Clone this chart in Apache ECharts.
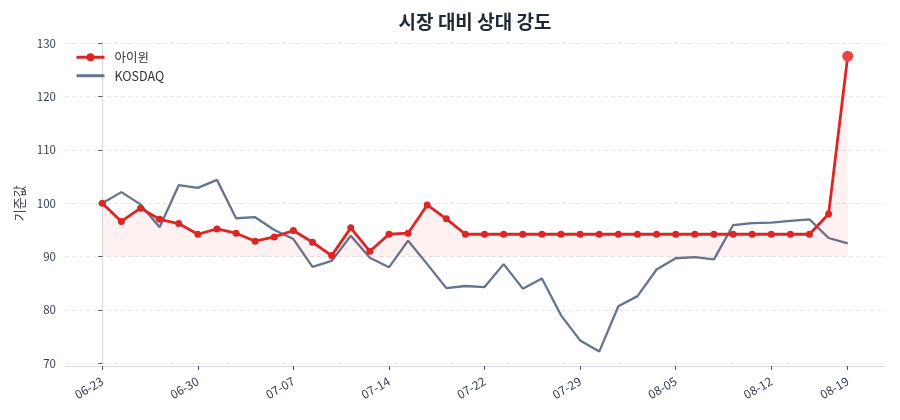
<!DOCTYPE html>
<html>
<head>
<meta charset="utf-8">
<script src="https://cdn.jsdelivr.net/npm/echarts@6/dist/echarts.min.js"></script>
<style>
html,body{margin:0;padding:0;background:#fff;}
#chart{width:900px;height:420px;}
</style>
</head>
<body>
<div id="chart"></div>
<script>
// ---- data ----
var dates = ['06-23','06-24','06-25','06-26','06-27','06-30','07-01','07-02','07-03','07-04',
  '07-07','07-08','07-09','07-10','07-11','07-14','07-15','07-16','07-17','07-18',
  '07-22','07-23','07-24','07-25','07-28','07-29','07-30','07-31','08-01','08-04',
  '08-05','08-06','08-07','08-08','08-11','08-12','08-13','08-14','08-18','08-19'];
var stockValues = [100.0, 96.6, 99.1, 97.0, 96.2, 94.2, 95.2, 94.4, 92.9, 93.7,
  94.9, 92.7, 90.2, 95.4, 91.0, 94.2, 94.4, 99.7, 97.1, 94.2,
  94.2, 94.2, 94.2, 94.2, 94.2, 94.2, 94.2, 94.2, 94.2, 94.2,
  94.2, 94.2, 94.2, 94.2, 94.2, 94.2, 94.2, 94.2, 98.0, 127.6];
var kosdaqValues = [100.0, 102.1, 99.8, 95.5, 103.4, 102.9, 104.4, 97.2, 97.4, 95.0,
  93.3, 88.1, 89.2, 93.9, 89.8, 88.0, 93.0, 88.6, 84.1, 84.5,
  84.3, 88.6, 84.0, 85.9, 79.0, 74.3, 72.2, 80.7, 82.6, 87.6,
  89.7, 89.9, 89.5, 95.9, 96.3, 96.4, 96.7, 97.0, 93.5, 92.5];
var tickIdx = [0, 5, 10, 15, 20, 25, 30, 35, 39];
var yTicks = [70, 80, 90, 100, 110, 120, 130];
var baseline = 90;
var stockName = '아이윈';
var kosdaqName = 'KOSDAQ';

// ---- chart ----
var FONT = "'Noto Sans CJK KR', 'Noto Sans', sans-serif";
var chart = echarts.init(document.getElementById('chart'), null, {renderer: 'canvas'});
var last = stockValues.length - 1;
var stockData = stockValues.map(function (v, i) {
  if (i === last) {
    return {value: [i, v], symbolSize: 11, itemStyle: {color: '#ef4444'}};
  }
  return [i, v];
});
var kosdaqData = kosdaqValues.map(function (v, i) { return [i, v]; });

chart.setOption({
  animation: false,
  backgroundColor: '#ffffff',
  textStyle: {fontFamily: FONT},
  title: {
    text: '시장 대비 상대 강도',
    left: 475,
    textAlign: 'center',
    top: 12,
    padding: 0,
    textStyle: {fontFamily: FONT, fontSize: 19, fontWeight: 'bold', color: '#1f2937'}
  },
  legend: {
    data: [
      {name: stockName, lineStyle: {width: 3}},
      {name: kosdaqName, lineStyle: {width: 3}, itemStyle: {color: 'rgba(0,0,0,0)', borderWidth: 0, opacity: 0}}
    ],
    orient: 'vertical',
    left: 75,
    top: 51,
    padding: 0,
    itemWidth: 28,
    itemHeight: 10,
    itemGap: 6,
    textStyle: {fontFamily: FONT, fontSize: 12.5, color: '#333333', padding: [0, 0, 0, 5]}
  },
  grid: {left: 65, right: 15, top: 43.33, bottom: 56.67, containLabel: false},
  xAxis: {
    type: 'value',
    min: -1.95,
    max: 40.95,
    offset: 2.7,
    splitLine: {show: false},
    axisLine: {show: true, lineStyle: {color: '#d9dde3', width: 1.2}},
    axisTick: {show: true, length: 4, customValues: tickIdx, lineStyle: {color: '#4b5563'}},
    axisLabel: {
      customValues: tickIdx,
      formatter: function (v) { return dates[v] || ''; },
      rotate: 30,
      margin: 14,
      fontFamily: FONT,
      fontSize: 12,
      color: '#374151'
    }
  },
  yAxis: {
    type: 'value',
    min: yTicks[0],
    max: yTicks[yTicks.length - 1],
    interval: 10,
    name: '기준값',
    nameLocation: 'middle',
    nameGap: 38,
    nameTextStyle: {fontFamily: FONT, fontSize: 13, color: '#374151'},
    axisLine: {show: true, lineStyle: {color: '#d9dde3', width: 1.2}},
    axisTick: {show: true, length: 4, lineStyle: {color: '#4b5563'}},
    axisLabel: {margin: 9, fontFamily: FONT, fontSize: 11.5, color: '#374151'},
    splitLine: {show: true, lineStyle: {color: '#e5e7eb', type: [4, 3], width: 1}}
  },
  series: [
    {
      name: kosdaqName,
      type: 'line',
      data: kosdaqData,
      symbol: 'none',
      showSymbol: false,
      lineStyle: {color: '#64748b', width: 2.3},
      itemStyle: {color: '#64748b'},
      z: 2
    },
    {
      name: stockName,
      type: 'line',
      data: stockData,
      symbol: 'circle',
      symbolSize: 7,
      showSymbol: true,
      lineStyle: {color: '#dc2626', width: 2.8},
      itemStyle: {color: '#dc2626'},
      areaStyle: {color: 'rgba(220,38,38,0.09)', origin: baseline},
      z: 3
    }
  ]
});
</script>
</body>
</html>
